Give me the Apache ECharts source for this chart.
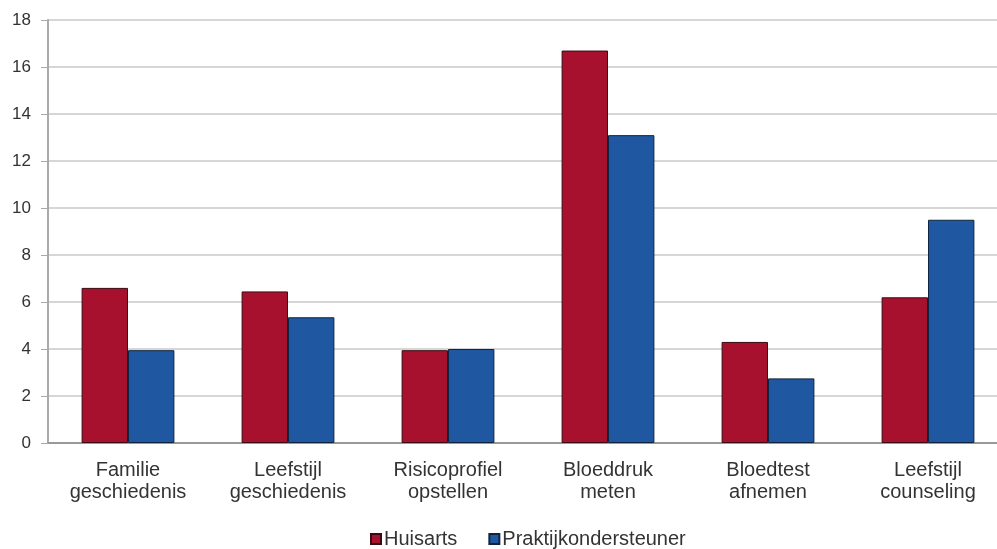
<!DOCTYPE html>
<html>
<head>
<meta charset="utf-8">
<script src="https://cdn.jsdelivr.net/npm/echarts@6/dist/echarts.min.js"></script>
<style>
  html, body { margin: 0; padding: 0; background: #fff; overflow: hidden; }
  /* the plot area runs slightly past the right edge of the window */
  #chart { width: 1010px; height: 549px; }
</style>
</head>
<body>
<div id="chart"></div>
<script>
// Activities (two-line labels) and counts per care provider
const categories = [
  'Familie\ngeschiedenis',
  'Leefstijl\ngeschiedenis',
  'Risicoprofiel\nopstellen',
  'Bloeddruk\nmeten',
  'Bloedtest\nafnemen',
  'Leefstijl\ncounseling'
];
const huisarts = [6.6, 6.45, 3.95, 16.7, 4.3, 6.2];
const praktijkondersteuner = [3.95, 5.35, 4.0, 13.1, 2.75, 9.5];
const seriesNames = ['Huisarts', 'Praktijkondersteuner'];

const chart = echarts.init(document.getElementById('chart'));
const font = 'Liberation Sans, Arial, sans-serif';

chart.setOption({
  animation: false,
  grid: { left: 48, right: 2, top: 20, bottom: 106, containLabel: false },
  legend: {
    bottom: 0,
    left: 370,
    padding: 0,
    itemWidth: 10,
    itemHeight: 10,
    itemGap: 31,
    icon: 'rect',
    textStyle: { fontFamily: font, fontSize: 20, color: '#333', padding: [0, 0, 0, -2] },
    data: seriesNames
  },
  xAxis: {
    type: 'category',
    data: categories,
    axisLine: { lineStyle: { color: '#999', width: 2 } },
    axisTick: { show: false },
    axisLabel: {
      fontFamily: font, fontSize: 20, color: '#333',
      lineHeight: 22, margin: 16, interval: 0
    }
  },
  yAxis: {
    type: 'value',
    min: 0, max: 18, interval: 2,
    axisLine: { show: true, lineStyle: { color: '#aaa', width: 2 } },
    axisTick: { show: true, length: 7, lineStyle: { color: '#aaa' } },
    axisLabel: { fontFamily: font, fontSize: 17, color: '#333', margin: 17 },
    splitLine: { lineStyle: { color: '#c8c8c8', width: 1.5 } }
  },
  series: [
    {
      name: seriesNames[0], type: 'bar', data: huisarts,
      barGap: '0%', barCategoryGap: '42%',
      itemStyle: { color: '#A8112E', borderColor: '#3a0a12', borderWidth: 1 }
    },
    {
      name: seriesNames[1], type: 'bar', data: praktijkondersteuner,
      itemStyle: { color: '#1F58A0', borderColor: '#0e2440', borderWidth: 1 }
    }
  ]
});
</script>
</body>
</html>
